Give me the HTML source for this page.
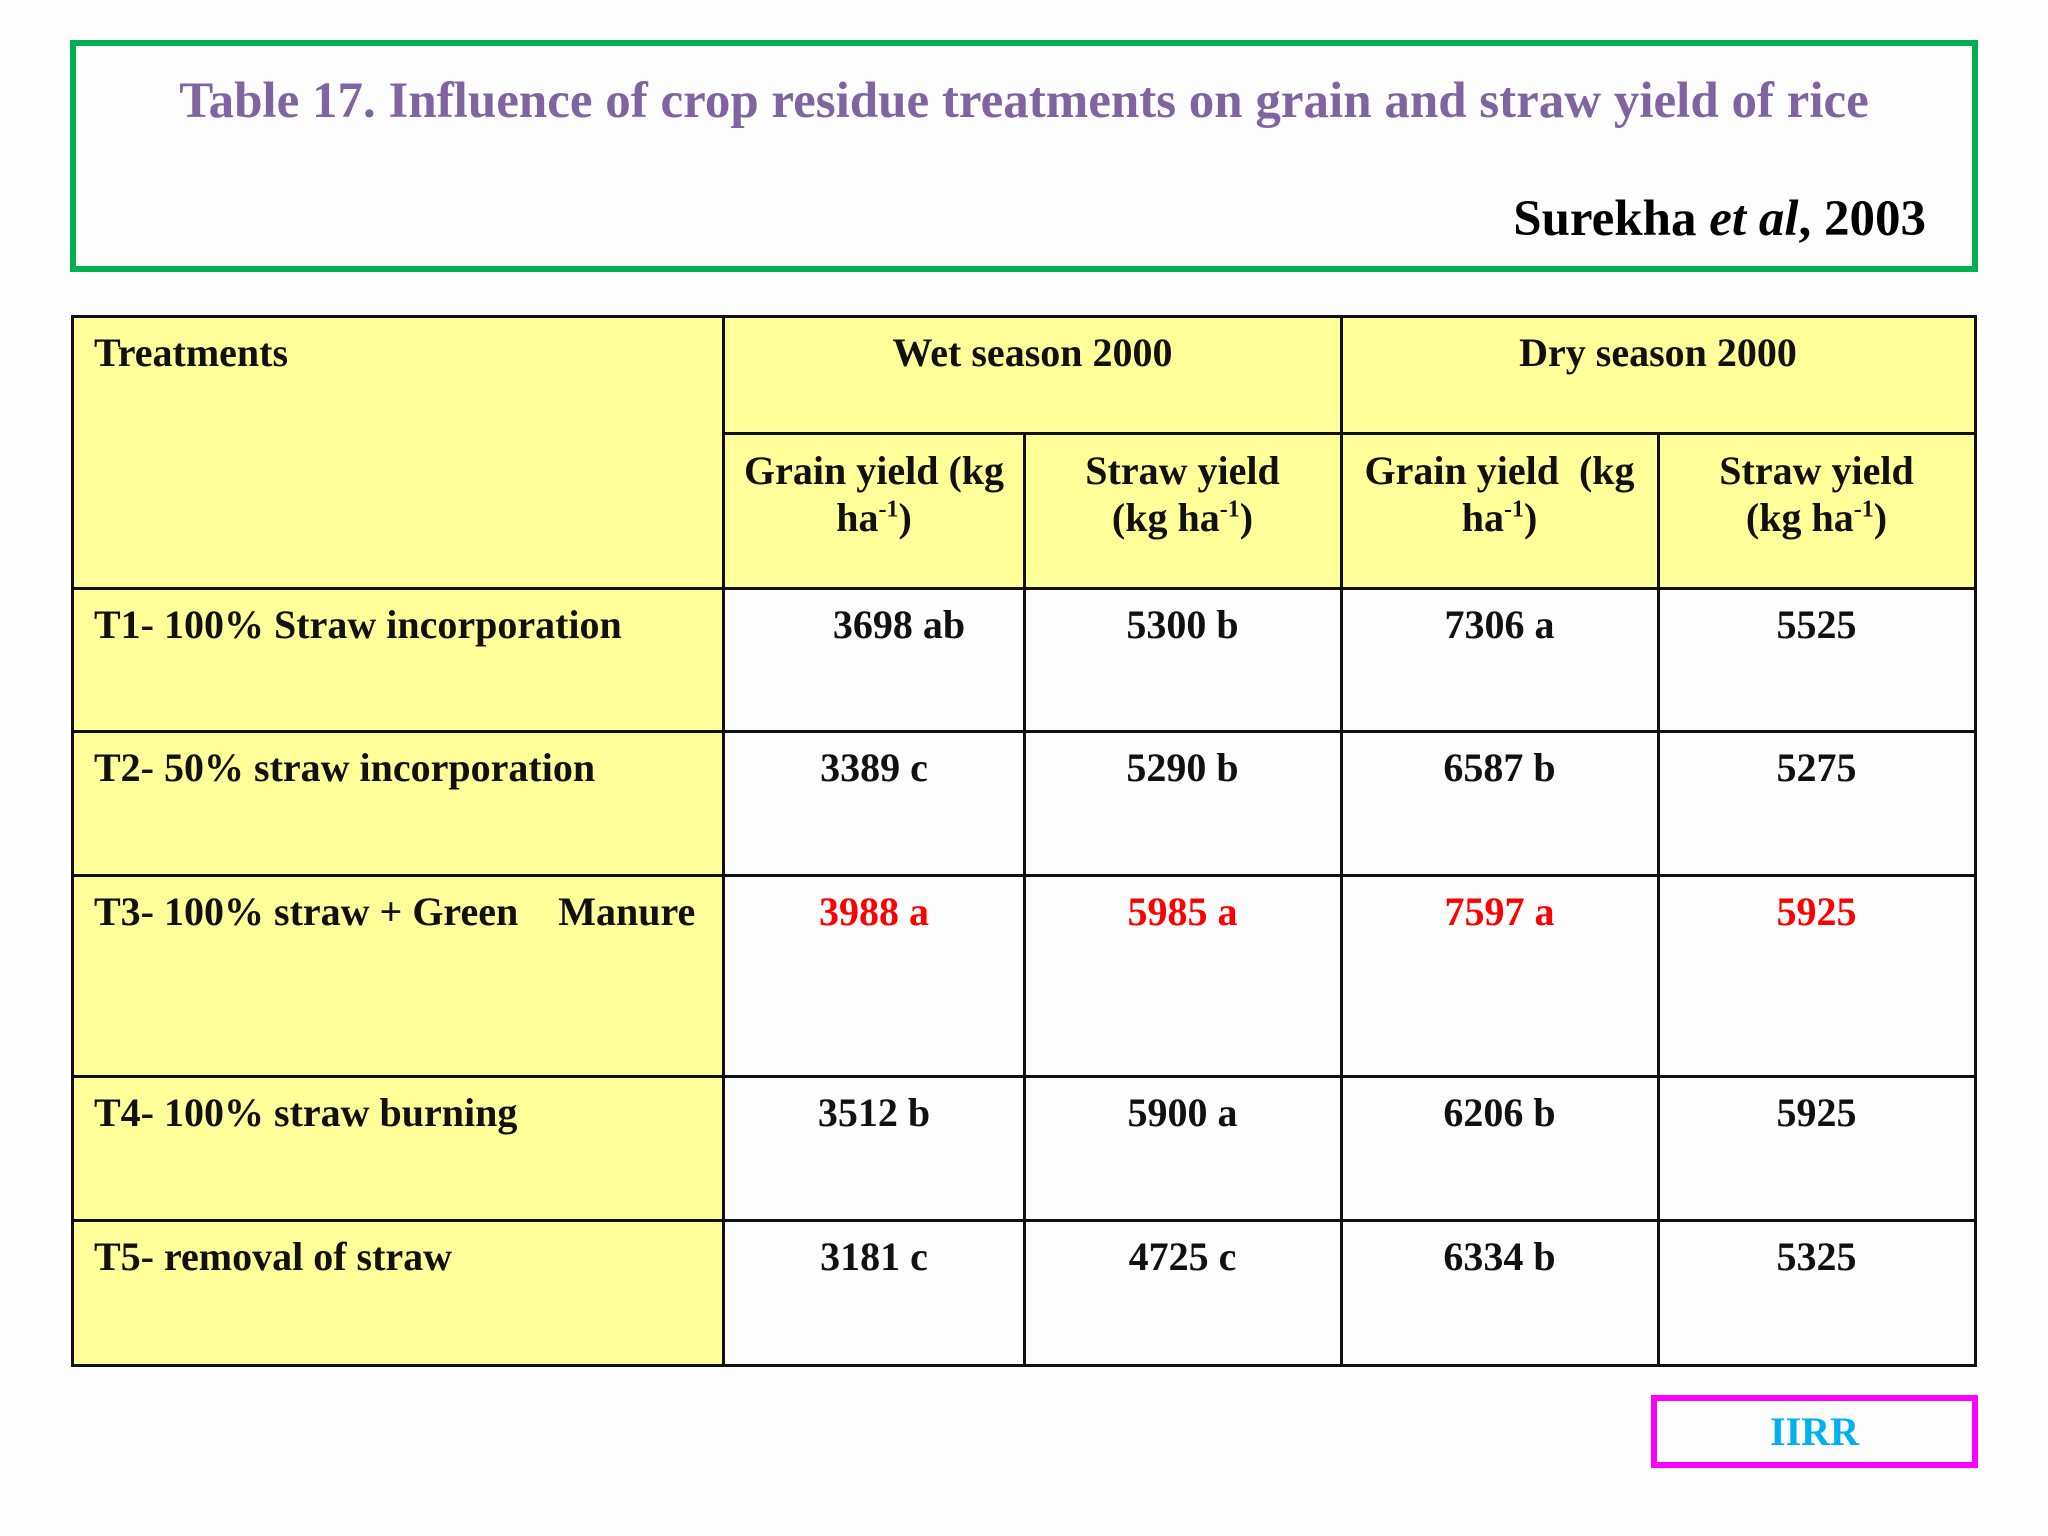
<!DOCTYPE html>
<html><head><meta charset="utf-8">
<style>
body{margin:0;width:2048px;height:1536px;background:#fdfdfd;position:relative;overflow:hidden;font-family:"Liberation Serif",serif;font-weight:bold;}
.box{position:absolute;box-sizing:border-box;}
.c{position:absolute;box-sizing:border-box;font-size:40px;line-height:47px;text-align:center;padding-top:13px;color:#111;}
.y{background:#ffff99;}
.l{text-align:left;padding-left:22px;}
.r{color:#ff0000;}
.hl{position:absolute;background:#111;height:3px;}
.vl{position:absolute;background:#111;width:3px;}
sup{font-size:24px;line-height:0;}
</style></head><body>
<div class="box" style="left:70px;top:40px;width:1908px;height:232px;border:6px solid #00b050;">
  <div style="position:absolute;left:0;right:0;top:26px;text-align:center;font-size:51px;color:#8064a2;">Table 17. Influence of crop residue treatments on grain and straw yield of rice</div>
  <div style="position:absolute;right:46px;top:144px;font-size:51px;color:#000;">Surekha <i>et al</i>, 2003</div>
</div>

<div style="position:absolute;left:0;top:0;">
<div class="c y l" style="left:72px;top:316px;width:652px;height:272px;">Treatments</div>
<div class="c y" style="left:724px;top:316px;width:617px;height:118px;">Wet season 2000</div>
<div class="c y" style="left:1341px;top:316px;width:634px;height:118px;">Dry season 2000</div>
<div class="c y" style="left:724px;top:434px;width:300px;height:154px;">Grain yield (kg<br>ha<sup>-1</sup>)</div>
<div class="c y" style="left:1024px;top:434px;width:317px;height:154px;">Straw yield<br>(kg ha<sup>-1</sup>)</div>
<div class="c y" style="left:1341px;top:434px;width:317px;height:154px;">Grain yield&nbsp; (kg<br>ha<sup>-1</sup>)</div>
<div class="c y" style="left:1658px;top:434px;width:317px;height:154px;">Straw yield<br>(kg ha<sup>-1</sup>)</div>

<div class="c y l" style="left:72px;top:588px;width:652px;height:143px;">T1- 100% Straw incorporation</div>
<div class="c" style="left:724px;top:588px;width:300px;padding-left:50px;">3698 ab</div>
<div class="c" style="left:1024px;top:588px;width:317px;">5300 b</div>
<div class="c" style="left:1341px;top:588px;width:317px;">7306 a</div>
<div class="c" style="left:1658px;top:588px;width:317px;">5525</div>

<div class="c y l" style="left:72px;top:731px;width:652px;height:144px;">T2- 50% straw incorporation</div>
<div class="c" style="left:724px;top:731px;width:300px;">3389 c</div>
<div class="c" style="left:1024px;top:731px;width:317px;">5290 b</div>
<div class="c" style="left:1341px;top:731px;width:317px;">6587 b</div>
<div class="c" style="left:1658px;top:731px;width:317px;">5275</div>

<div class="c y l" style="left:72px;top:875px;width:652px;height:201px;white-space:pre;">T3- 100% straw + Green    Manure</div>
<div class="c r" style="left:724px;top:875px;width:300px;">3988 a</div>
<div class="c r" style="left:1024px;top:875px;width:317px;">5985 a</div>
<div class="c r" style="left:1341px;top:875px;width:317px;">7597 a</div>
<div class="c r" style="left:1658px;top:875px;width:317px;">5925</div>

<div class="c y l" style="left:72px;top:1076px;width:652px;height:144px;">T4- 100% straw burning</div>
<div class="c" style="left:724px;top:1076px;width:300px;">3512 b</div>
<div class="c" style="left:1024px;top:1076px;width:317px;">5900 a</div>
<div class="c" style="left:1341px;top:1076px;width:317px;">6206 b</div>
<div class="c" style="left:1658px;top:1076px;width:317px;">5925</div>

<div class="c y l" style="left:72px;top:1220px;width:652px;height:145px;">T5- removal of straw</div>
<div class="c" style="left:724px;top:1220px;width:300px;">3181 c</div>
<div class="c" style="left:1024px;top:1220px;width:317px;">4725 c</div>
<div class="c" style="left:1341px;top:1220px;width:317px;">6334 b</div>
<div class="c" style="left:1658px;top:1220px;width:317px;">5325</div>

<div class="hl" style="left:71px;top:315px;width:1906px;"></div>
<div class="hl" style="left:723px;top:432px;width:1254px;"></div>
<div class="hl" style="left:71px;top:587px;width:1906px;"></div>
<div class="hl" style="left:71px;top:730px;width:1906px;"></div>
<div class="hl" style="left:71px;top:874px;width:1906px;"></div>
<div class="hl" style="left:71px;top:1075px;width:1906px;"></div>
<div class="hl" style="left:71px;top:1219px;width:1906px;"></div>
<div class="hl" style="left:71px;top:1364px;width:1906px;"></div>
<div class="vl" style="left:71px;top:315px;height:1052px;"></div>
<div class="vl" style="left:722px;top:315px;height:1052px;"></div>
<div class="vl" style="left:1023px;top:432px;height:935px;"></div>
<div class="vl" style="left:1340px;top:315px;height:1052px;"></div>
<div class="vl" style="left:1657px;top:432px;height:935px;"></div>
<div class="vl" style="left:1974px;top:315px;height:1052px;"></div>
</div>

<div class="box" style="left:1651px;top:1395px;width:327px;height:73px;border:6px solid #ff00ff;text-align:center;font-size:40px;line-height:61px;color:#00b0f0;">IIRR</div>
</body></html>
